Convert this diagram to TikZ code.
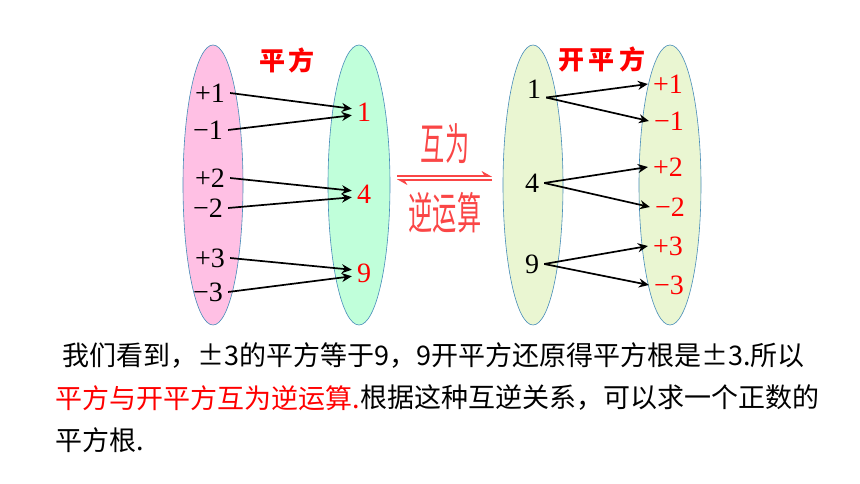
\documentclass[tikz,border=0pt]{standalone}
\usepackage{fontspec}
\setmainfont{Liberation Serif}
\newfontfamily\cjk{Noto Sans CJK SC}
\usepackage{tikz}
\usetikzlibrary{arrows.meta}
\definecolor{setpink}{RGB}{255,192,228}
\definecolor{setmint}{RGB}{192,255,218}
\definecolor{setlime}{RGB}{234,246,210}
\definecolor{setedge}{RGB}{70,140,185}
\definecolor{tagred}{RGB}{255,0,0}
\definecolor{softred}{RGB}{250,70,70}

\begin{document}
\begin{tikzpicture}[x=1pt,y=-1pt,
    set_oval/.style={draw=setedge,line width=0.6pt},
    num_node/.style={inner sep=5pt,font=\fontsize{28}{28}\selectfont},
    red_node/.style={num_node,text=tagred},
    map_arrow/.style={line width=1.7pt,-{Stealth[length=10pt,width=9pt]}},
    harp_arrow/.style={softred,line width=1.8pt,-{Stealth[harpoon,length=9pt,width=10pt]}},
    tag_node/.style={text=tagred,inner sep=0pt,font=\cjk\bfseries\fontsize{26}{26}\selectfont},
    line_node/.style={anchor=west,inner sep=0pt,font=\cjk\fontsize{27}{27}\selectfont}]
    \useasboundingbox (0,0) rectangle (860,484);
    \fill[white] (0,0) rectangle (860,484);
    \draw[set_oval,fill=setpink] (213,185) ellipse (30 and 140);
    \draw[set_oval,fill=setmint] (359,185) ellipse (31 and 140);
    \draw[set_oval,fill=setlime] (533,185) ellipse (30 and 140);
    \draw[set_oval,fill=setlime] (670,185) ellipse (31 and 140);
    \node[tag_node] (sq) at (287,60) {平\hspace{4pt}方};
    \node[tag_node] (rt) at (602,59) {开\hspace{5pt}平\hspace{5pt}方};
    \node[num_node] (a1) at (210,93) {+1};
    \node[num_node] (a2) at (208,130) {−1};
    \node[num_node] (a3) at (210,178) {+2};
    \node[num_node] (a4) at (208,208) {−2};
    \node[num_node] (a5) at (210,258) {+3};
    \node[num_node] (a6) at (208,292) {−3};
    \node[red_node] (b1) at (364,112) {1};
    \node[red_node] (b2) at (364,194) {4};
    \node[red_node] (b3) at (364,273) {9};
    \draw[map_arrow] (a1.east) -- (b1.165);
    \draw[map_arrow] (a2.east) -- (b1.195);
    \draw[map_arrow] (a3.east) -- (b2.165);
    \draw[map_arrow] (a4.east) -- (b2.195);
    \draw[map_arrow] (a5.east) -- (b3.165);
    \draw[map_arrow] (a6.east) -- (b3.195);
    \node[num_node] (c1) at (534,89) {1};
    \node[num_node] (c2) at (532,183) {4};
    \node[num_node] (c3) at (532,264) {9};
    \node[red_node] (d1) at (668,84) {+1};
    \node[red_node] (d2) at (669,121) {−1};
    \node[red_node] (d3) at (668,167) {+2};
    \node[red_node] (d4) at (670,207) {−2};
    \node[red_node] (d5) at (668,246) {+3};
    \node[red_node] (d6) at (669,285) {−3};
    \draw[map_arrow] (c1.-35) -- (d1.west);
    \draw[map_arrow] (c1.-35) -- (d2.west);
    \draw[map_arrow] (c2.east) -- (d3.west);
    \draw[map_arrow] (c2.east) -- (d4.west);
    \draw[map_arrow] (c3.east) -- (d5.west);
    \draw[map_arrow] (c3.east) -- (d6.west);
    \coordinate (hl) at (397,178);
    \coordinate (hr) at (492,178);
    \draw[harp_arrow] ([yshift=2pt]hl) -- ([yshift=2pt]hr);
    \draw[harp_arrow] ([yshift=-2pt]hr) -- ([yshift=-2pt]hl);
    \node[text=softred,inner sep=0pt] (up) at (445,144) {\scalebox{0.55}[1]{\cjk\fontsize{44}{44}\selectfont 互为}};
    \node[text=softred,inner sep=0pt] (dn) at (445,213) {\scalebox{0.55}[1]{\cjk\fontsize{44}{44}\selectfont 逆运算}};
    \node[line_node] (line1) at (62,356) {我们看到，±3的平方等于9，9开平方还原得平方根是±3.所以};
    \node[line_node,text=tagred] (line2a) at (55,398) {平方与开平方互为逆运算.};
    \node[line_node] (line2b) at (line2a.east) {根据这种互逆关系，可以求一个正数的};
    \node[line_node] (line3) at (55,440) {平方根.};
\end{tikzpicture}
\end{document}
